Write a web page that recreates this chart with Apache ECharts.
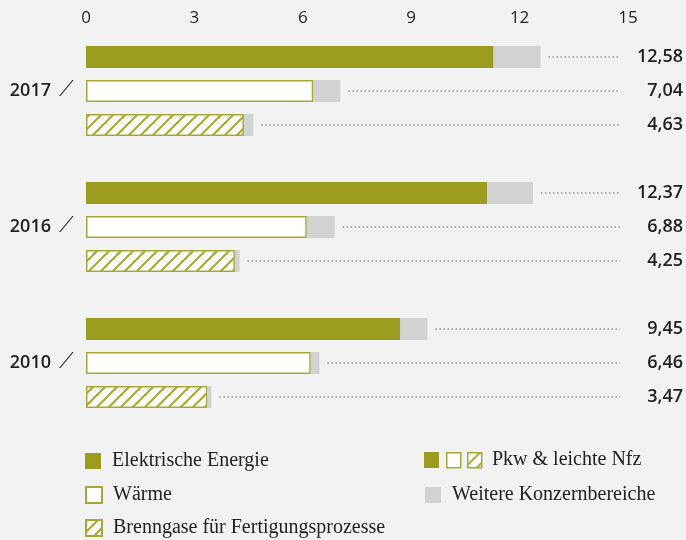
<!DOCTYPE html>
<html>
<head>
<meta charset="utf-8">
<script src="https://cdn.jsdelivr.net/npm/echarts@6/dist/echarts.min.js"></script>
<style>
  html, body { margin: 0; padding: 0; background: #f2f2f2; }
  #chart { width: 686px; height: 540px; }
</style>
</head>
<body>
<div id="chart"></div>
<script>
const years = ['2017', '2016', '2010']
// Pkw & leichte Nfz
const elektrisch = [11.28, 11.10, 8.70]
const waerme = [6.29, 6.11, 6.22]
const brenngase = [4.37, 4.12, 3.36]
// Gesamt inkl. weitere Konzernbereiche
const totalElektrisch = [12.58, 12.37, 9.45]
const totalWaerme = [7.04, 6.88, 6.46]
const totalBrenngase = [4.63, 4.25, 3.47]
const xTicks = [0, 3, 6, 9, 12, 15]

const olive = '#9b9b1f'
const oliveLine = '#a6a735'
const grey = '#d2d2d2'

// rows: E, W, B, gap, E, W, B, gap, E, W, B
const rows = []
const eData = [], wData = [], bData = [], restData = [], totalRows = []
years.forEach((y, i) => {
  const grp = [
    [elektrisch[i], totalElektrisch[i], 'e'],
    [waerme[i], totalWaerme[i], 'w'],
    [brenngase[i], totalBrenngase[i], 'b']
  ]
  grp.forEach(([pkw, tot, kind]) => {
    const idx = rows.length
    rows.push(kind === 'w' ? y : '')
    eData.push(kind === 'e' ? pkw : '-')
    wData.push(kind === 'w' ? pkw : '-')
    bData.push(kind === 'b' ? pkw : '-')
    restData.push(+(tot - pkw).toFixed(2))
    totalRows.push([idx, tot, tot.toFixed(2).replace('.', ',')])
  })
  if (i < years.length - 1) {
    rows.push('')
    eData.push('-'); wData.push('-'); bData.push('-'); restData.push('-')
  }
})

// hatch pattern
const pat = document.createElement('canvas')
pat.width = 12; pat.height = 12
const ctx = pat.getContext('2d')
ctx.fillStyle = '#ffffff'
ctx.fillRect(0, 0, 12, 12)
ctx.strokeStyle = oliveLine
ctx.lineWidth = 2
ctx.beginPath()
ctx.moveTo(-2, 14); ctx.lineTo(14, -2)
ctx.moveTo(-2, 2); ctx.lineTo(2, -2)
ctx.moveTo(10, 14); ctx.lineTo(14, 10)
ctx.stroke()

const chart = echarts.init(document.getElementById('chart'))

const legendText = { fontFamily: 'Liberation Serif, serif', fontSize: 20, color: '#222', padding: [0, 0, 0, 6] }

chart.setOption({
  backgroundColor: '#f2f2f2',
  animation: false,
  grid: { left: 86, right: 58, top: 40, height: 374 },
  xAxis: {
    type: 'value',
    position: 'top',
    min: 0,
    max: 15,
    interval: 3,
    axisLine: { show: false },
    axisTick: { show: false },
    splitLine: { show: false },
    axisLabel: {
      margin: 13,
      fontSize: 17,
      color: '#222',
      fontFamily: 'Open Sans, sans-serif',
      formatter: v => xTicks.includes(v) ? String(v) : ''
    }
  },
  yAxis: {
    type: 'category',
    data: rows,
    inverse: true,
    axisLine: { show: false },
    axisTick: { show: false },
    axisLabel: {
      margin: 12,
      formatter: v => v ? '{y|' + v + '}{s|\u27CB}' : '',
      rich: {
        y: { fontSize: 18, fontWeight: 600, color: '#222', fontFamily: 'Open Sans, sans-serif' },
        s: { fontSize: 21, color: '#333', fontFamily: 'DejaVu Sans, sans-serif', padding: [0, 0, 0, 8] }
      }
    }
  },
  legend: [
    { left: 85, top: 451, data: ['Elektrische Energie'] },
    { left: 85, top: 485, data: ['Wärme'] },
    { left: 85, top: 518, data: ['Brenngase für Fertigungsprozesse'] },
    { left: 425, top: 485, data: ['Weitere Konzernbereiche'] }
  ].map(l => Object.assign({
    orient: 'horizontal', itemWidth: 16, itemHeight: 16, itemGap: 10,
    icon: 'rect', textStyle: legendText, padding: 0
  }, l)),
  graphic: [
    { type: 'rect', left: 424, top: 452, shape: { width: 15, height: 16 }, style: { fill: olive } },
    { type: 'rect', left: 446, top: 452, shape: { width: 14, height: 15 }, style: { fill: '#fff', stroke: oliveLine, lineWidth: 1.5 } },
    { type: 'rect', left: 467, top: 452, shape: { width: 14, height: 15 }, style: { fill: { image: pat, repeat: 'repeat' }, stroke: oliveLine, lineWidth: 1.5 } },
    { type: 'text', left: 492, top: 450, style: { text: 'Pkw & leichte Nfz', font: '20px "Liberation Serif", serif', fill: '#222' } }
  ],
  series: [
    {
      name: 'Elektrische Energie', type: 'bar', stack: 'a', barWidth: 22,
      data: eData, itemStyle: { color: olive }
    },
    {
      name: 'Wärme', type: 'bar', stack: 'a', barWidth: 22,
      data: wData, itemStyle: { color: '#ffffff', borderColor: oliveLine, borderWidth: 1.5 }
    },
    {
      name: 'Brenngase für Fertigungsprozesse', type: 'bar', stack: 'a', barWidth: 22,
      data: bData, itemStyle: { color: { image: pat, repeat: 'repeat' }, borderColor: oliveLine, borderWidth: 1.5 }
    },
    {
      name: 'Weitere Konzernbereiche', type: 'bar', stack: 'a', barWidth: 22,
      data: restData, itemStyle: { color: grey }
    },
    {
      type: 'custom',
      silent: true,
      data: totalRows,
      encode: { x: 1, y: 0 },
      renderItem: (params, api) => {
        const end = api.coord([api.value(1), api.value(0)])
        const right = api.coord([15, api.value(0)])
        return {
          type: 'group',
          children: [
            {
              type: 'line',
              shape: { x1: end[0] + 8, y1: end[1], x2: right[0] - 8, y2: end[1] },
              style: { stroke: '#ababab', lineWidth: 2, lineDash: [1.5, 2.5] }
            },
            {
              type: 'text',
              x: right[0] + 55,
              y: end[1],
              style: {
                text: totalRows[params.dataIndex][2],
                align: 'right',
                verticalAlign: 'middle',
                font: '600 18px "Open Sans", sans-serif',
                fill: '#222'
              }
            }
          ]
        }
      }
    }
  ]
})
</script>
</body>
</html>
